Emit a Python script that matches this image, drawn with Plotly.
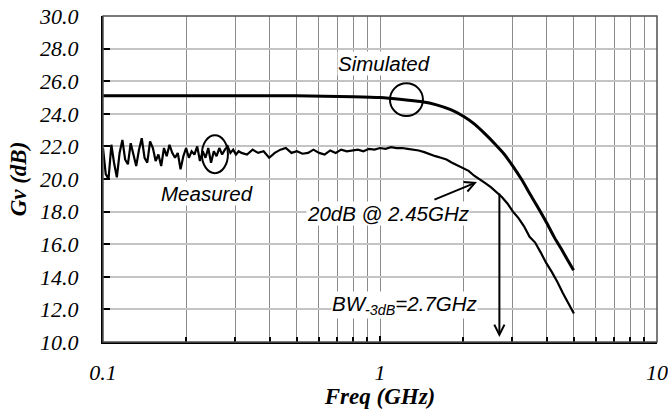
import plotly.graph_objects as go

# ---------------- data ----------------
sim_freq = [0.1, 0.3, 0.5, 0.8, 1.0, 1.2, 1.4, 1.6, 1.8, 2.0, 2.2, 2.4, 2.6, 2.8,
            3.0, 3.25, 3.5, 3.75, 4.0, 4.25, 4.5, 4.75, 5.0]
sim_gain = [25.1, 25.1, 25.1, 25.05, 25.0, 24.88, 24.75, 24.55, 24.25, 23.85, 23.35,
            22.75, 22.15, 21.55, 20.85, 19.95, 19.0, 18.15, 17.3, 16.45, 15.75, 15.05, 14.4]

meas_freq = [0.1000, 0.1023, 0.1047, 0.1072, 0.1096, 0.1122, 0.1148, 0.1175, 0.1202, 0.1230,
             0.1259, 0.1288, 0.1318, 0.1349, 0.1380, 0.1413, 0.1445, 0.1479, 0.1514, 0.1549,
             0.1585, 0.1622, 0.1660, 0.1698, 0.1738, 0.1778, 0.1820, 0.1862, 0.1905, 0.1950,
             0.1995, 0.2042, 0.2089, 0.2138, 0.2188, 0.2239, 0.2291, 0.2344, 0.2399, 0.2455,
             0.2512, 0.2570, 0.2630, 0.2692, 0.2754, 0.2818, 0.2884, 0.2951, 0.3020, 0.3090,
             0.3162,
             0.331, 0.347, 0.363, 0.380, 0.398, 0.417, 0.437, 0.457, 0.479, 0.501,
             0.525, 0.550, 0.575, 0.603, 0.631, 0.661, 0.692, 0.724, 0.759, 0.794,
             0.832, 0.871, 0.912, 0.955, 1.000, 1.047, 1.096, 1.148, 1.202, 1.259,
             1.318, 1.380, 1.445, 1.514, 1.585, 1.660, 1.738, 1.820, 1.905, 1.995,
             2.089, 2.188, 2.291, 2.399, 2.512, 2.630, 2.754, 2.884, 3.020, 3.162,
             3.311, 3.467, 3.631, 3.802, 3.981, 4.169, 4.365, 4.571, 4.786, 5.012]
meas_gain = [21.9, 20.3, 20.0, 22.1, 21.0, 20.1, 21.6, 22.4, 21.2, 20.9,
             22.2, 21.4, 20.8, 21.8, 22.5, 21.3, 21.0, 22.3, 21.9, 21.1,
             21.5, 20.8, 21.9, 21.4, 22.1, 21.6, 21.3, 21.6, 20.6, 21.4,
             21.9, 21.3, 21.7, 21.5, 22.0, 21.1, 21.7, 21.3, 21.9, 21.0,
             21.7, 21.4, 21.9, 21.5, 21.8, 22.0, 21.6, 21.8, 21.5, 21.7,
             21.6,
             21.5, 21.8, 21.6, 21.7, 21.3, 21.6, 21.8, 21.9, 21.6, 21.7,
             21.55, 21.6, 21.8, 21.6, 21.5, 21.75, 21.6, 21.8, 21.7, 21.75,
             21.8, 21.7, 21.85, 21.8, 21.9, 21.85, 21.95, 21.9, 21.9, 21.85,
             21.8, 21.75, 21.65, 21.5, 21.4, 21.3, 21.2, 21.0, 20.85, 20.7,
             20.5, 20.2, 20.0, 19.75, 19.5, 19.2, 18.9, 18.5, 18.0, 17.6,
             17.1, 16.45, 16.1, 15.5, 14.85, 14.3, 13.7, 13.0, 12.4, 11.75]

x_tick_vals = [0.1, 1, 10]
x_tick_text = ["0.1", "1", "10"]
y_tick_vals = [10, 12, 14, 16, 18, 20, 22, 24, 26, 28, 30]
y_tick_text = ["10.0", "12.0", "14.0", "16.0", "18.0", "20.0",
               "22.0", "24.0", "26.0", "28.0", "30.0"]

serif = "Liberation Serif, Times New Roman, serif"
sans = "Liberation Sans"

fig = go.Figure()
fig.add_trace(go.Scatter(x=sim_freq, y=sim_gain, mode="lines",
                         line=dict(color="black", width=3, shape="spline", smoothing=0.6),
                         hoverinfo="skip"))
fig.add_trace(go.Scatter(x=meas_freq, y=meas_gain, mode="lines",
                         line=dict(color="black", width=2.2),
                         hoverinfo="skip"))

titlefont = dict(family=serif, size=23, style="italic", weight="bold", color="black")
tfont = dict(family=serif, size=22, style="italic", weight="normal", color="black")

fig.update_layout(
    width=668, height=409,
    margin=dict(l=103, r=11, t=16, b=67),
    plot_bgcolor="white", paper_bgcolor="white",
    showlegend=False,
    font=dict(family=serif, color="black"),
    xaxis=dict(
        type="log", range=[-1, 1], automargin=False,
        tickvals=x_tick_vals, ticktext=x_tick_text,
        tickfont=tfont,
        ticklabeloverflow="allow",
        ticks="inside", ticklen=6, tickcolor="black", tickwidth=1.5,
        showgrid=True, gridcolor="#8c8c8c", gridwidth=1,
        showline=True, linecolor="black", linewidth=2,
        minor=dict(dtick="D1", ticks="inside", ticklen=5, tickcolor="black",
                   tickwidth=1.5, showgrid=True, gridcolor="#8c8c8c", gridwidth=1),
        ticklabelstandoff=10,
        title=dict(text="Freq (GHz)", standoff=0, font=titlefont),
        zeroline=False,
    ),
    yaxis=dict(
        range=[10, 30], automargin=False,
        tickvals=y_tick_vals, ticktext=y_tick_text,
        tickfont=tfont,
        ticks="inside", ticklen=7, tickcolor="black", tickwidth=1.5,
        showgrid=True, gridcolor="#c4c4c4", gridwidth=1.5,
        showline=True, linecolor="black", linewidth=2,
        ticklabelstandoff=18,
        title=dict(text="Gv (dB)", standoff=6, font=titlefont),
        zeroline=False,
    ),
)

# plot border
fig.add_shape(type="rect", xref="paper", yref="paper", x0=0, y0=0, x1=1, y1=1,
              line=dict(color="#505050", width=1.5))
# circles marking the curves
fig.add_shape(type="circle", xref="x", yref="y",
              x0=10 ** 0.036, x1=10 ** 0.155, y0=23.86, y1=25.87,
              line=dict(color="black", width=2))
fig.add_shape(type="circle", xref="x", yref="y",
              x0=10 ** -0.643, x1=10 ** -0.549, y0=20.36, y1=22.69,
              line=dict(color="black", width=2))

afont = dict(family=sans, size=20.5, style="italic", color="black")
fig.add_annotation(x=0.0144, y=27.11, xref="x", yref="y", text="Simulated",
                   showarrow=False, font=afont, bgcolor="white", borderpad=0)
fig.add_annotation(x=-0.6245, y=19.13, xref="x", yref="y", text="Measured",
                   showarrow=False, font=afont, bgcolor="white", borderpad=0)
fig.add_annotation(x=0.0289, y=17.9, xref="x", yref="y", text="20dB @ 2.45GHz",
                   showarrow=False, font=afont, bgcolor="white", borderpad=0)
fig.add_annotation(x=0.090, y=12.25, xref="x", yref="y",
                   text="BW<sub>-3dB</sub>=2.7GHz",
                   showarrow=False, font=afont, bgcolor="white", borderpad=0)
# arrows
fig.add_annotation(x=0.350, y=19.81, xref="x", yref="y",
                   ax=0.191, ay=18.70, axref="x", ayref="y",
                   text="", showarrow=True, arrowhead=5, arrowsize=1,
                   arrowwidth=2, arrowcolor="black")
fig.add_annotation(x=0.431, y=10.31, xref="x", yref="y",
                   ax=0.431, ay=19.21, axref="x", ayref="y",
                   text="", showarrow=True, arrowhead=5, arrowsize=1,
                   arrowwidth=2, arrowcolor="black")

fig.write_html("out.html")
